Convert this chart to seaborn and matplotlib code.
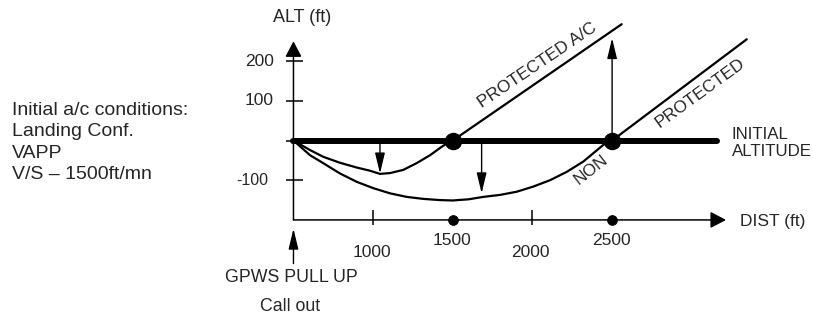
import matplotlib
matplotlib.use("Agg")
import numpy as np
import pandas as pd
import seaborn as sns
import matplotlib.pyplot as plt

# (dist in ft, alt in ft)
dist_protected = [500, 604, 687, 792, 897, 980, 1043, 1106, 1189, 1273, 1357, 1440, 1500, 2560]
alt_protected = [0, -24, -41, -56, -68, -76, -84, -82, -74, -57, -37, -13, 0, 293]

dist_non = [500, 604, 687, 792, 897, 1001, 1106, 1211, 1315, 1419, 1500, 1600, 1691, 1796, 1901,
            2005, 2110, 2215, 2319, 2382, 2445, 2500, 3345]
alt_non = [0, -37, -57, -83, -104, -120, -133, -142, -147, -150, -151, -148, -142, -137, -129,
           -116, -100, -79, -53, -32, -11, 0, 255]

initial_alt = [500, 3160]
cross_dist = [1500, 2500]
x_ticks = [1000, 2000]
x_tick_labels = ["1000", "2000"]
x_dot_labels = ["1500", "2500"]
y_ticks = [200, 100, -100]
y_tick_labels = ["200", "100", "-100"]

# gap arrows: (dist, from alt, to alt)
gap_arrows = [(1043, 0, -83), (1681, 0, -133), (2500, 0, 258)]

conditions = "Initial a/c conditions:\nLanding Conf.\nVAPP\nV/S \u2013 1500ft/mn"

sns.set_style("white")
plt.rcParams['font.family'] = ['Liberation Sans', 'DejaVu Sans']

fig = plt.figure(figsize=(8.13, 3.16), dpi=100)
ax = fig.add_axes([0, 0, 1, 1])
ax.set_xlim(-1342, 3761)
ax.set_ylim(-442, 354)
ax.axis('off')

fs = 12.5

# axes drawn as arrows
axis_origin = (500, -200)
ax.annotate('', xy=(500, 250), xytext=axis_origin,
            arrowprops=dict(arrowstyle='-|>,head_length=0.95,head_width=0.5', color='black',
                            lw=1.1, mutation_scale=10, shrinkA=0, shrinkB=0))
ax.annotate('', xy=(3215, -200), xytext=axis_origin,
            arrowprops=dict(arrowstyle='-|>,head_length=0.95,head_width=0.5', color='black',
                            lw=1.1, mutation_scale=10, shrinkA=0, shrinkB=0))

# ticks
ax.hlines(y_ticks, 455, 560, color='black', lw=1.1)
ax.hlines([0], 455, 500, color='black', lw=1.1)
ax.vlines(x_ticks, -175, -212, color='black', lw=1.1)

# initial altitude line
sns.lineplot(x=initial_alt, y=[0, 0], color='black', lw=4.3, ax=ax)

# trajectories
sns.lineplot(x=dist_protected, y=alt_protected, sort=False, estimator=None,
             color='black', lw=1.6, ax=ax)
sns.lineplot(x=dist_non, y=alt_non, sort=False, estimator=None,
             color='black', lw=1.6, ax=ax)

# crossing points and axis dots
sns.scatterplot(x=cross_dist, y=[0, 0], s=135, color='black', edgecolor='black', ax=ax, zorder=5)
sns.scatterplot(x=cross_dist, y=[-200, -200], s=50, color='black', edgecolor='black', ax=ax, zorder=5)

for d, a0, a1 in gap_arrows:
    ax.annotate('', xy=(d, a1), xytext=(d, a0),
                arrowprops=dict(arrowstyle='-|>,head_length=1.25,head_width=0.3', color='black',
                                lw=1.0, mutation_scale=10, shrinkA=0, shrinkB=0))

# GPWS call out arrow
ax.annotate('', xy=(500, -222), xytext=(500, -310),
            arrowprops=dict(arrowstyle='-|>,head_length=1.25,head_width=0.3', color='black',
                            lw=1.0, mutation_scale=10, shrinkA=0, shrinkB=0))

# tick labels
for v, lab in zip(y_ticks, y_tick_labels):
    size = fs if v > 0 else fs - 1
    right = 378 if v > 0 else 340
    ax.text(right, v, lab, ha='right', va='center', fontsize=size)
for v, lab in zip(x_ticks, x_tick_labels):
    ax.text(v - 10, -281, lab, ha='center', va='center', fontsize=fs)
for v, lab in zip(cross_dist, x_dot_labels):
    ax.text(v - 5, -251, lab, ha='center', va='center', fontsize=fs)

# labels
ax.text(556, 309, "ALT (ft)", ha='center', va='center', fontsize=fs + 0.5)
ax.text(3303, -203, "DIST (ft)", ha='left', va='center', fontsize=fs)
ax.text(3250, -6, "INITIAL\nALTITUDE", ha='left', va='center', fontsize=12.2, linespacing=1.1)
ax.text(487, -346, "GPWS PULL UP", ha='center', va='center', fontsize=fs + 0.3)
ax.text(478, -418, "Call out", ha='center', va='center', fontsize=fs + 0.3)
ax.text(-1267, -5, conditions, ha='left', va='center', fontsize=14, linespacing=1.32)

ax.text(2029, 190, "PROTECTED A/C", ha='center', va='center', fontsize=fs,
        rotation=34, rotation_mode='anchor')
ax.text(3052, 120, "PROTECTED", ha='center', va='center', fontsize=fs,
        rotation=36, rotation_mode='anchor')
ax.text(2368, -74, "NON", ha='center', va='center', fontsize=fs,
        rotation=38, rotation_mode='anchor')

fig.savefig("out.png", dpi=100)
